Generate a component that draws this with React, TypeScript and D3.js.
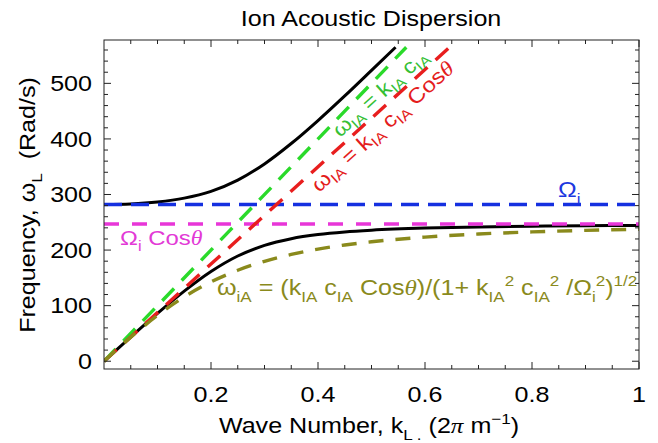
import React from "react";
import * as d3 from "d3";

// ---- data ----
const K_UPPER = [0, 0.05, 0.1, 0.15, 0.2, 0.25, 0.3, 0.35, 0.4, 0.45, 0.5, 0.545];
const W_UPPER = [282, 283.1, 286.6, 293.5, 305.7, 325.9, 355.0, 391.7, 433.1, 477.4, 523.4, 565];

const K_LOWER = [0, 0.025, 0.05, 0.1, 0.15, 0.2, 0.25, 0.3, 0.35, 0.4, 0.45, 0.5, 0.6, 0.7, 0.8, 0.9, 1.0];
const W_LOWER = [0, 21.9, 43.6, 86.1, 126.1, 161.4, 189.3, 208.5, 220.5, 227.9, 232.6, 235.7, 239.5, 241.6, 242.9, 243.7, 244.3];

const K_OLIVE = [0, 0.05, 0.1, 0.15, 0.2, 0.25, 0.3, 0.35, 0.4, 0.45, 0.5, 0.6, 0.7, 0.8, 0.9, 1.0];
const W_OLIVE = [0, 43.1, 82.5, 115.9, 142.7, 163.7, 179.8, 192.1, 201.7, 209.1, 214.9, 223.3, 228.9, 232.7, 235.5, 237.5];

const K_GREEN = [0, 0.565];
const W_GREEN = [0, 565];
const K_RED = [0, 0.646];
const W_RED = [0, 565];

const OMEGA_I = 282;
const OMEGA_I_COS = 247;

const X_TICKS = [0.2, 0.4, 0.6, 0.8, 1];
const X_TICK_LABELS = ["0.2", "0.4", "0.6", "0.8", "1"];
const Y_TICKS = [0, 100, 200, 300, 400, 500];
const Y_TICK_LABELS = ["0", "100", "200", "300", "400", "500"];

// ---- layout ----
const W = 658, H = 443;
const L = 104, R = 639, T = 40, B = 369;
const SX = 1.14;
const FONT = "'Liberation Sans', Arial, Helvetica, sans-serif";
const SERIF = "'Liberation Serif', 'Times New Roman', serif";

type Seg = { t: string; s?: "sub" | "sup"; i?: boolean };

function renderSegs(segs: Seg[], size: number, subShift: number) {
  let cur = 0;
  return segs.map((sg, idx) => {
    const target = sg.s === "sub" ? subShift * size : sg.s === "sup" ? -0.42 * size : 0;
    const dy = target - cur;
    cur = target;
    return (
      <tspan
        key={idx}
        dy={dy}
        fontSize={sg.s ? size * 0.68 : size}
        fontStyle={sg.i ? "italic" : "normal"}
        fontFamily={sg.i ? SERIF : FONT}
        style={{ whiteSpace: "pre" }}
      >
        {sg.t}
      </tspan>
    );
  });
}

function Label(props: {
  x: number; y: number; rot?: number; anchor?: string; size?: number; fill?: string; segs: Seg[]; subShift?: number;
}) {
  const { x, y, rot = 0, anchor = "start", size = 22, fill = "#000", segs, subShift = 0.3 } = props;
  return (
    <g transform={`translate(${x},${y}) rotate(${rot}) scale(${SX},1)`}>
      <text textAnchor={anchor as any} fontSize={size} fill={fill} fontFamily={FONT} style={{ whiteSpace: "pre" }}>
        {renderSegs(segs, size, subShift)}
      </text>
    </g>
  );
}

export default function App() {
  const x = d3.scaleLinear().domain([0, 1]).range([L, R]);
  const y = d3.scaleLinear().domain([-14, 578]).range([B, T]);
  const line = d3
    .line<[number, number]>()
    .x((d) => x(d[0]))
    .y((d) => y(d[1]))
    .curve(d3.curveMonotoneX);
  const zip = (a: number[], b: number[]) => a.map((v, i) => [v, b[i]] as [number, number]);

  const xMinor = d3.range(1, 20).map((i) => i * 0.05).filter((v) => Math.abs((v * 5) - Math.round(v * 5)) > 1e-6);
  const yMinor = d3.range(0, 29).map((i) => i * 20).filter((v) => v % 100 !== 0 && v < 578);

  const sw = 3.4;
  return (
    <svg width={W} height={H} style={{ position: "absolute", left: 0, top: 0, background: "#fff" }}>
      <defs>
        <clipPath id="plot">
          <rect x={L} y={T} width={R - L} height={B - T} />
        </clipPath>
      </defs>
      <rect x={0} y={0} width={W} height={H} fill="#fff" />

      <g clipPath="url(#plot)" fill="none">
        <path d={line(zip(K_UPPER, W_UPPER)) || ""} stroke="#000" strokeWidth={3} />
        <path d={line(zip(K_LOWER, W_LOWER)) || ""} stroke="#000" strokeWidth={3} />
        <path d={line(zip([0, 1], [OMEGA_I, OMEGA_I])) || ""} stroke="#1530e0" strokeWidth={sw} strokeDasharray="18 9" />
        <path d={line(zip([0, 1], [OMEGA_I_COS, OMEGA_I_COS])) || ""} stroke="#e836d8" strokeWidth={sw} strokeDasharray="15 13" />
        <path d={line(zip(K_GREEN, W_GREEN)) || ""} stroke="#2ada2a" strokeWidth={sw} strokeDasharray="17 11" />
        <path d={line(zip(K_RED, W_RED)) || ""} stroke="#e81e1e" strokeWidth={sw} strokeDasharray="17 11" />
        <path d={line(zip(K_OLIVE, W_OLIVE)) || ""} stroke="#8a8a1c" strokeWidth={sw} strokeDasharray="15 12" />
      </g>

      {/* frame */}
      <rect x={L} y={T} width={R - L} height={B - T} fill="none" stroke="#222" strokeWidth={1} />
      <g stroke="#222" strokeWidth={1}>
        {X_TICKS.map((v) => (
          <g key={"xm" + v}>
            <line x1={x(v)} x2={x(v)} y1={B} y2={B - 7} />
            <line x1={x(v)} x2={x(v)} y1={T} y2={T + 7} />
          </g>
        ))}
        {xMinor.map((v) => (
          <g key={"xn" + v}>
            <line x1={x(v)} x2={x(v)} y1={B} y2={B - 4} />
            <line x1={x(v)} x2={x(v)} y1={T} y2={T + 4} />
          </g>
        ))}
        {Y_TICKS.map((v) => (
          <g key={"ym" + v}>
            <line x1={L} x2={L + 7} y1={y(v)} y2={y(v)} />
            <line x1={R} x2={R - 7} y1={y(v)} y2={y(v)} />
          </g>
        ))}
        {yMinor.map((v) => (
          <g key={"yn" + v}>
            <line x1={L} x2={L + 4} y1={y(v)} y2={y(v)} />
            <line x1={R} x2={R - 4} y1={y(v)} y2={y(v)} />
          </g>
        ))}
      </g>

      {/* tick labels */}
      {X_TICKS.map((v, i) => (
        <Label key={"xl" + v} x={x(v)} y={401.5} anchor="middle" segs={[{ t: X_TICK_LABELS[i] }]} />
      ))}
      {Y_TICKS.map((v, i) => (
        <Label key={"yl" + v} x={92} y={y(v) + 7.8} anchor="end" segs={[{ t: Y_TICK_LABELS[i] }]} />
      ))}

      {/* title & axis labels */}
      <Label x={371} y={26} anchor="middle" segs={[{ t: "Ion Acoustic Dispersion" }]} />
      <Label
        x={369}
        y={433}
        anchor="middle"
        segs={[
          { t: "Wave Number, k" },
          { t: "L .", s: "sub" },
          { t: " (2" },
          { t: "π", i: true },
          { t: " m" },
          { t: "−1", s: "sup" },
          { t: ")" },
        ]}
      />
      <Label
        x={35}
        y={205}
        rot={-90}
        anchor="middle"
        segs={[{ t: "Frequency, ω" }, { t: "L", s: "sub" }, { t: "  (Rad/s)" }]}
      />

      {/* annotations */}
      <Label x={558} y={197} fill="#1c38e0" segs={[{ t: "Ω" }, { t: "i", s: "sub" }]} />
      <Label
        x={120}
        y={245}
        size={21}
        fill="#e23ad6"
        segs={[{ t: "Ω" }, { t: "i", s: "sub" }, { t: " Cos" }, { t: "θ", i: true }]}
      />
      <Label
        x={340}
        y={138}
        rot={-42}
        size={20.5}
        subShift={0.22}
        fill="#35c035"
        segs={[
          { t: "ω" }, { t: "IA", s: "sub" }, { t: " = k" }, { t: "IA", s: "sub" }, { t: " c" }, { t: "IA", s: "sub" },
        ]}
      />
      <Label
        x={319}
        y={193}
        rot={-42}
        size={21}
        subShift={0.22}
        fill="#e41c1c"
        segs={[
          { t: "ω" }, { t: "IA", s: "sub" }, { t: " = k" }, { t: "IA", s: "sub" }, { t: " c" }, { t: "IA", s: "sub" },
          { t: " Cos" }, { t: "θ", i: true },
        ]}
      />
      <Label
        x={217}
        y={295}
        fill="#8a8a1c"
        segs={[
          { t: "ω" }, { t: "iA", s: "sub" }, { t: " = (k" }, { t: "IA", s: "sub" }, { t: " c" }, { t: "IA", s: "sub" },
          { t: " Cos" }, { t: "θ", i: true }, { t: ")/(1+ k" }, { t: "IA", s: "sub" }, { t: "2", s: "sup" },
          { t: " c" }, { t: "IA", s: "sub" }, { t: "2", s: "sup" }, { t: " /Ω" }, { t: "i", s: "sub" }, { t: "2", s: "sup" },
          { t: ")" }, { t: "1/2", s: "sup" },
        ]}
      />
    </svg>
  );
}
